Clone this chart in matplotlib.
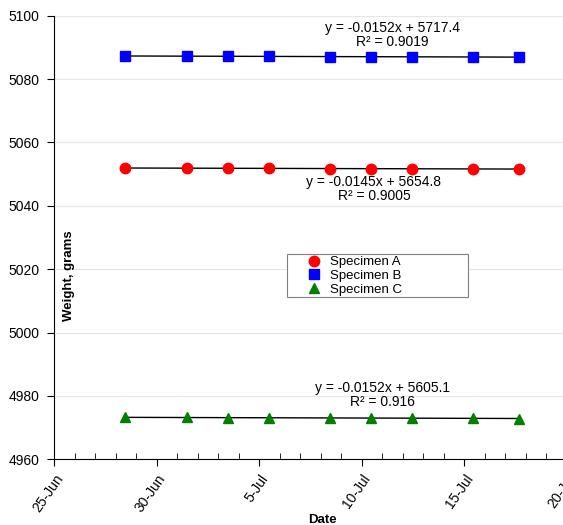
import numpy as np
import pandas as pd
import matplotlib
matplotlib.use("Agg")
import matplotlib.pyplot as plt
import matplotlib.dates as mdates
from matplotlib.patches import Rectangle

plt.rcParams['font.family'] = ['Liberation Sans', 'DejaVu Sans']

dates = pd.to_datetime([
    "2013-06-28 11:00", "2013-07-01 11:00", "2013-07-03 11:00",
    "2013-07-05 11:00", "2013-07-08 10:00", "2013-07-10 11:00",
    "2013-07-12 11:00", "2013-07-15 10:00", "2013-07-17 16:00",
])

# weights in grams
spec_a = [5051.95, 5051.90, 5051.85, 5051.84, 5051.76, 5051.73, 5051.70, 5051.66, 5051.62]
spec_b = [5087.30, 5087.25, 5087.20, 5087.18, 5087.12, 5087.06, 5087.05, 5087.00, 5086.93]
spec_c = [4973.25, 4973.20, 4973.14, 4973.12, 4973.06, 4973.03, 4972.98, 4972.94, 4972.88]

labels = ["Specimen A", "Specimen B", "Specimen C"]
eq_text = ["y = -0.0145x + 5654.8\nR\u00b2 = 0.9005",
           "y = -0.0152x + 5717.4\nR\u00b2 = 0.9019",
           "y = -0.0152x + 5605.1\nR\u00b2 = 0.916"]
eq_pos = [("2013-07-10 14:00", 5045.2), ("2013-07-11 12:00", 5093.8), ("2013-07-11 00:00", 4980.3)]

fig = plt.figure(figsize=(5.63, 5.25), dpi=100)
ax = fig.add_axes([0.0968, 0.1251, 1.007 - 0.0968, 0.970 - 0.1251])

styles = [("o", "#ff0000", 7.5), ("s", "#0000ff", 7), ("^", "#008000", 7.5)]
xnum = mdates.date2num(dates)

for data, lab, (mk, col, ms) in zip([spec_a, spec_b, spec_c], labels, styles):
    # linear trendline from first to last point
    k, b = np.polyfit(xnum, data, 1)
    ax.plot(dates[[0, -1]], k * xnum[[0, -1]] + b, color="black", lw=1, zorder=2)
    ax.plot(dates, data, linestyle="none", marker=mk, color=col, ms=ms,
            label=lab, zorder=3)

for txt, (d, y) in zip(eq_text, eq_pos):
    ax.text(pd.Timestamp(d), y, txt, ha="center", va="center", fontsize=10,
            linespacing=1.0)

ax.set_xlim(pd.Timestamp("2013-06-25"), pd.Timestamp("2013-07-20"))
ax.set_ylim(4960, 5100)
ax.set_yticks(np.arange(4960, 5101, 20))
ax.xaxis.set_major_locator(mdates.DayLocator(bymonthday=[5, 10, 15, 20, 25, 30]))
ax.xaxis.set_minor_locator(mdates.DayLocator())
ax.xaxis.set_major_formatter(mdates.DateFormatter("%-d-%b"))

ax.grid(axis="y", color="#e6e6e6", lw=0.8)
ax.set_axisbelow(True)
for s in ["top", "right"]:
    ax.spines[s].set_visible(False)

ax.tick_params(axis="y", which="major", direction="out", length=5, labelsize=10, pad=6)
ax.tick_params(axis="x", which="major", direction="out", length=5, labelsize=10, pad=4)
ax.tick_params(axis="x", which="minor", direction="in", length=4)
for lbl in ax.get_xticklabels():
    lbl.set_rotation(55)
    lbl.set_ha("right")
    lbl.set_rotation_mode("anchor")

ax.text(0.028, 0.415, "Weight, grams", transform=ax.transAxes, rotation=90,
        ha="center", va="center", fontsize=9.5, fontweight="bold")
fig.text(322 / 563, 1 - 520 / 525, "Date", ha="center", va="center",
         fontsize=9.5, fontweight="bold")

# legend box (wider than its entries, as in the original)
x0 = lambda px: (px - 54.5) / 512.5
y0 = lambda py: (459.3 - py) / 443.6
ax.add_patch(Rectangle((x0(287), y0(297)), x0(468) - x0(287), y0(254) - y0(297),
                       transform=ax.transAxes, facecolor="white", edgecolor="#808080",
                       lw=0.8, zorder=4))
leg = ax.legend(loc="upper left", bbox_to_anchor=(x0(305), y0(256)),
                frameon=False, fontsize=9.5, handletextpad=0.5,
                labelspacing=0.12, borderpad=0, handlelength=1.4,
                borderaxespad=0)
leg.set_zorder(5)

fig.savefig("out.png", dpi=100)
